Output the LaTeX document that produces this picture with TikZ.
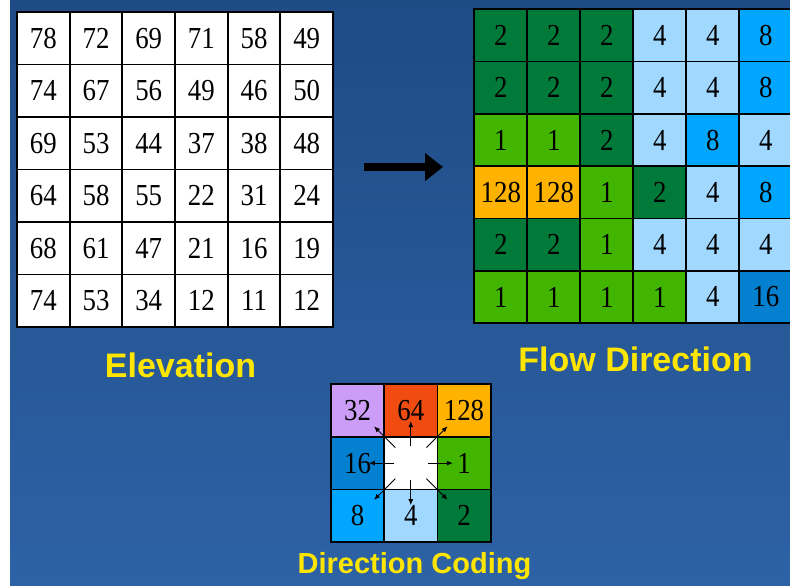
\documentclass[tikz,border=0pt]{standalone}
\usepackage{fontspec}
\setmainfont{Liberation Serif}
\newfontfamily\cellfamily{Liberation Serif}[FakeStretch=0.88]
\newfontfamily\titlefamily{Liberation Sans}
\usetikzlibrary{arrows.meta, calc, positioning}
\definecolor{bgTop}{HTML}{1F4B85}
\definecolor{bgMid}{HTML}{3868A5}
\definecolor{bgBottom}{HTML}{2D62A6}
\definecolor{labelYellow}{HTML}{FFE600}
\definecolor{dir1}{HTML}{42B500}
\definecolor{dir2}{HTML}{007A38}
\definecolor{dir4}{HTML}{A0D8FF}
\definecolor{dir8}{HTML}{00A6FF}
\definecolor{dir16}{HTML}{0380CF}
\definecolor{dir32}{HTML}{CB9DF6}
\definecolor{dir64}{HTML}{F04C12}
\definecolor{dir128}{HTML}{FFB300}
\tikzset{
    gridCell/.style={draw, line width=1.8pt, inner sep=0pt, outer sep=0pt, minimum width=52.7pt, minimum height=52.5pt, font=\cellfamily\fontsize{30.5}{32}\selectfont},
    elevCell/.style={gridCell, fill=white},
    flowCell/.style={gridCell, minimum width=53pt, minimum height=52.3pt},
    codeCell/.style={gridCell, minimum width=53.2pt, minimum height=52.7pt},
    titleText/.style={text=labelYellow, anchor=base, inner sep=0pt, font=\titlefamily\bfseries\fontsize{34}{40}\selectfont},
    bigArrow/.style={line width=8pt, -{Triangle[length=18pt, width=27pt]}},
    codeArrow/.style={line width=0.9pt, -{Latex[length=6pt, width=5pt]}},
}

\begin{document}
\begin{tikzpicture}[x=1pt, y=-1pt, node distance=0pt]

    \useasboundingbox (0,0) rectangle (790,586);
    \clip (0,0) rectangle (790,586);
    \fill[white] (0,0) rectangle (10,586);
    \fill[top color=bgTop, middle color=bgMid, bottom color=bgBottom] (10,0) rectangle (790,586);

    % elevation grid
    \foreach \row [count=\j from 0] in {{78,72,69,71,58,49},{74,67,56,49,46,50},{69,53,44,37,38,48},{64,58,55,22,31,24},{68,61,47,21,16,19},{74,53,34,12,11,12}} {
        \foreach \v [count=\i from 0] in \row {
            \node[elevCell] (elev-\j-\i) at ({17+52.67*(\i+0.5)}, {12+52.5*(\j+0.5)}) {\v};
        }
    }
    \node[titleText] (elevTitle) at (180.5, 377) {Elevation};

    % flow direction grid
    \foreach \row [count=\j from 0] in {{2,2,2,4,4,8},{2,2,2,4,4,8},{1,1,2,4,8,4},{128,128,1,2,4,8},{2,2,1,4,4,4},{1,1,1,1,4,16}} {
        \foreach \v [count=\i from 0] in \row {
            \node[flowCell, fill=dir\v] (flow-\j-\i) at ({474.3+53*(\i+0.5)}, {9.3+52.3*(\j+0.5)}) {\v};
        }
    }
    \node[titleText] (flowTitle) at (635.5, 371) {Flow Direction};

    % arrow between the grids
    \coordinate (arrowTail) at (364, 167);
    \coordinate (arrowTip) at (443, 167);
    \draw[bigArrow] (arrowTail) -- (arrowTip);

    % direction coding
    \node[codeCell, fill=dir32] (code-nw) at (357.6, 410.4) {32};
    \node[codeCell, fill=dir64, right=of code-nw] (code-n) {64};
    \node[codeCell, fill=dir128, right=of code-n] (code-ne) {128};
    \node[codeCell, fill=dir16, below=of code-nw] (code-w) {16};
    \node[codeCell, fill=white, right=of code-w] (code-c) {};
    \node[codeCell, fill=dir1, right=of code-c] (code-e) {1};
    \node[codeCell, fill=dir8, below=of code-w] (code-sw) {8};
    \node[codeCell, fill=dir4, right=of code-sw] (code-s) {4};
    \node[codeCell, fill=dir2, right=of code-s] (code-se) {2};

    \foreach \a in {0,90,180,270}
        \draw[codeArrow] ($(code-c)+(\a:17)$) -- ($(code-c)+(\a:42)$);
    \foreach \a in {45,135,225,315}
        \draw[codeArrow] ($(code-c)+(\a:22)$) -- ($(code-c)+(\a:52)$);

    \node[titleText, font=\titlefamily\bfseries\fontsize{29}{34}\selectfont] (codeTitle) at (414.5, 573) {Direction Coding};

\end{tikzpicture}
\end{document}
